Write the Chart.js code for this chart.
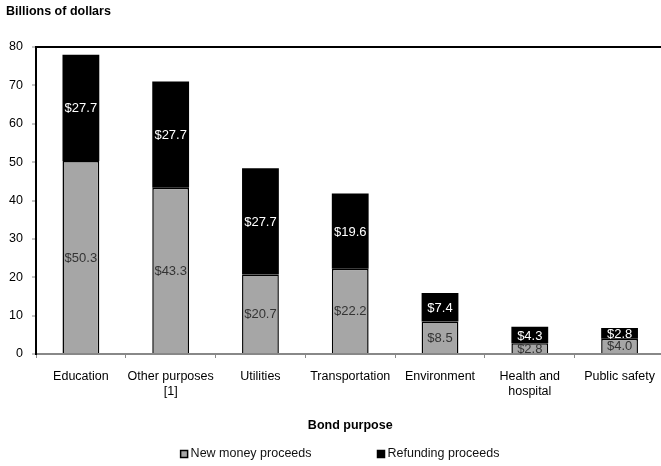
<!DOCTYPE html>
<html>
<head>
  <title>Bond purpose</title>
  <script src="https://cdn.jsdelivr.net/npm/chart.js"></script>
  <style>
    html, body { margin: 0; padding: 0; overflow: hidden; background: #fff; }
    #wrap { width: 666px; height: 466px; }
  </style>
</head>
<body>
  <div id="wrap"><canvas id="bondChart"></canvas></div>

  <script>
    const categories = ['Education', ['Other purposes', '[1]'], 'Utilities', 'Transportation',
      'Environment', ['Health and', 'hospital'], 'Public safety'];
    const newMoney = [50.3, 43.3, 20.7, 22.2, 8.5, 2.8, 4.0];
    const refunding = [27.7, 27.7, 27.7, 19.6, 7.4, 4.3, 2.8];
    const yTicks = [0, 10, 20, 30, 40, 50, 60, 70, 80];

    Chart.defaults.font.family = 'Liberation Sans, Arial, sans-serif';
    Chart.defaults.font.size = 12;
    Chart.defaults.color = '#000';

    // value labels in the middle of each segment
    const segmentLabels = {
      id: 'segmentLabels',
      afterDatasetsDraw(chart) {
        const ctx = chart.ctx;
        ctx.save();
        ctx.font = '13px Liberation Sans, Arial, sans-serif';
        ctx.textAlign = 'center';
        ctx.textBaseline = 'middle';
        chart.data.datasets.forEach((ds, i) => {
          chart.getDatasetMeta(i).data.forEach((bar, j) => {
            ctx.fillStyle = i === 0 ? '#333' : '#fff';
            ctx.fillText('$' + ds.data[j].toFixed(1), bar.x, (bar.y + bar.base) / 2 + 1);
          });
        });
        ctx.restore();
      }
    };

    // legend with wide gap between the two entries
    const bottomLegend = {
      id: 'bottomLegend',
      afterDraw(chart) {
        const ctx = chart.ctx;
        const gap = 66, box = 7;
        ctx.save();
        ctx.font = '12.5px Liberation Sans, Arial, sans-serif';
        ctx.textBaseline = 'middle';
        const items = chart.data.datasets.map(ds => ({
          ds, w: box + 3 + ctx.measureText(ds.label).width
        }));
        const total = items.reduce((s, it) => s + it.w, 0) + gap * (items.length - 1);
        let x = 340 - total / 2;
        const y = chart.height - 12;
        items.forEach(it => {
          ctx.fillStyle = it.ds.backgroundColor;
          ctx.fillRect(x, y - box / 2, box, box);
          ctx.strokeStyle = '#000';
          ctx.lineWidth = 1.5;
          ctx.strokeRect(x, y - box / 2, box, box);
          ctx.fillStyle = '#111';
          ctx.fillText(it.ds.label, x + box + 3, y);
          x += it.w + gap;
        });
        ctx.restore();
      }
    };

    new Chart(document.getElementById('bondChart'), {
      type: 'bar',
      data: {
        labels: categories,
        datasets: [{
          label: 'New money proceeds',
          data: newMoney,
          backgroundColor: '#a6a6a6',
          borderColor: '#000',
          borderWidth: 1.5,
          barPercentage: 0.41,
          categoryPercentage: 1
        }, {
          label: 'Refunding proceeds',
          data: refunding,
          backgroundColor: '#000',
          borderWidth: 0,
          barPercentage: 0.41,
          categoryPercentage: 1
        }]
      },
      options: {
        responsive: true,
        maintainAspectRatio: false,
        animation: false,
        layout: { padding: { left: 6, right: 0, top: 0, bottom: 33 } },
        plugins: {
          legend: { display: false },
          tooltip: { enabled: false },
          title: {
            display: true,
            text: 'Billions of dollars',
            align: 'start',
            font: { size: 12.5, weight: 'bold' },
            padding: { top: 4, bottom: 28 }
          }
        },
        scales: {
          x: {
            stacked: true,
            grid: {
              display: true,
              offset: true,
              drawOnChartArea: false,
              tickColor: '#888',
              tickLength: 4,
              tickWidth: 1
            },
            border: { color: '#888', width: 2 },
            ticks: {
              padding: 11,
              maxRotation: 0,
              minRotation: 0,
              autoSkip: false,
              font: { size: 12.5, lineHeight: 1.2 }
            },
            title: {
              display: true,
              text: 'Bond purpose',
              font: { size: 12.5, weight: 'bold' },
              padding: { top: 8, bottom: 0 }
            }
          },
          y: {
            stacked: true,
            min: 0,
            max: 80,
            afterBuildTicks: scale => { scale.ticks = yTicks.map(v => ({ value: v })); },
            afterFit: scale => { scale.width = 30; },
            grid: {
              color: ctx => ctx.tick && ctx.tick.value === 80 ? '#000' : 'rgba(0,0,0,0)',
              lineWidth: 2,
              tickColor: '#888',
              tickLength: 4,
              tickWidth: 1
            },
            border: { color: '#000', width: 2 },
            ticks: { padding: 9, font: { size: 12.5 } }
          }
        }
      },
      plugins: [segmentLabels, bottomLegend]
    });
  </script>
</body>
</html>
